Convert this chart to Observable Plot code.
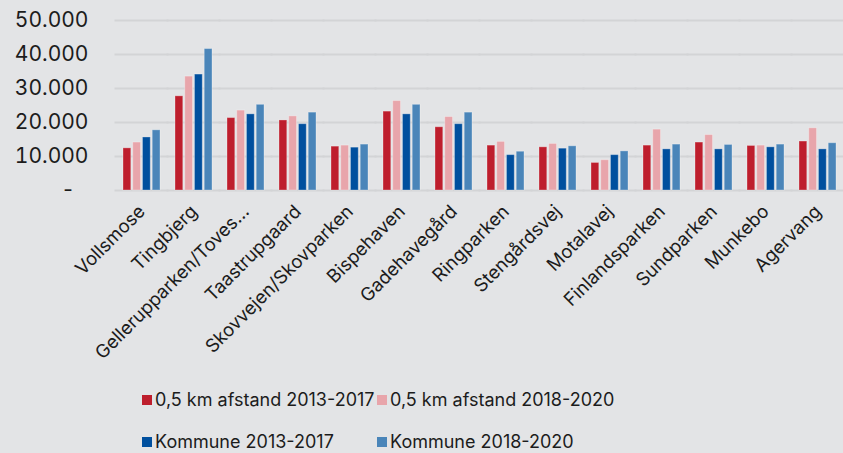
<!DOCTYPE html>
<html><head><meta charset="utf-8">
<script src="https://cdn.jsdelivr.net/npm/d3@7"></script>
<script src="https://cdn.jsdelivr.net/npm/@observablehq/plot@0.6"></script>
<style>
html,body{margin:0;padding:0;background:#e3e4e6;overflow:hidden;width:843px;height:453px;}
#chart svg{display:block;font-family:Inter,sans-serif;}
#chart svg g[aria-label^="y-axis"] text{font-size:21px;}
#chart svg g[aria-label^="fx-axis"] text{font-size:18.5px;}
.legend{display:grid;grid-template-columns:235px auto;row-gap:20px;padding-left:142px;margin-top:14px;font-family:Inter,sans-serif;font-size:18px;color:#1c1c1c;line-height:22px;}
.item{display:flex;align-items:center;white-space:nowrap;}
.sw{width:10px;height:10px;margin-right:3px;flex:none;}
</style>
</head><body>
<div id="chart"></div>
<div class="legend" id="legend"></div>
<script>
const categories = ["Vollsmose","Tingbjerg","Gellerupparken/Toves...","Taastrupgaard","Skovvejen/Skovparken","Bispehaven","Gadehavegård","Ringparken","Stengårdsvej","Motalavej","Finlandsparken","Sundparken","Munkebo","Agervang"];
const series = ["0,5 km afstand 2013-2017","0,5 km afstand 2018-2020","Kommune 2013-2017","Kommune 2018-2020"];
const colors = ["#be1e2d","#e8a5ab","#004f9e","#4a85b9"];
const afstand1317 = [12400,27700,21300,20600,12900,23200,18600,13200,12700,8100,13200,14100,13100,14400];
const afstand1820 = [14100,33500,23500,21800,13200,26300,21600,14300,13700,8900,17900,16300,13200,18300];
const kommune1317 = [15600,34100,22400,19500,12600,22400,19500,10400,12300,10400,12100,12100,12700,12100];
const kommune1820 = [17700,41600,25200,22900,13500,25200,22900,11400,13000,11500,13500,13400,13500,13900];
const yTicks = [0,10000,20000,30000,40000,50000];

const values = [afstand1317, afstand1820, kommune1317, kommune1820];
const data = categories.flatMap((c,i)=>series.map((s,j)=>({cat:c, series:s, value:values[j][i]})));
const fmt = d3.formatLocale({decimal:",", thousands:".", grouping:[3], currency:["",""]}).format(",");

const chart = Plot.plot({
  width:843, height:375, marginTop:20, marginLeft:112, marginRight:-4, marginBottom:185,
  style:{background:"transparent", fontFamily:"Inter, sans-serif", fontSize:"17px", color:"#1c1c1c", overflow:"visible"},
  fx:{domain:categories, paddingInner:0.295, paddingOuter:0.148, axis:"bottom", tickRotate:-45, tickSize:0, tickPadding:18, label:null},
  x:{domain:series, axis:null, paddingInner:0.2, paddingOuter:0, round:false},
  y:{domain:[0,50000], ticks:yTicks, tickFormat:d=>d===0?"-\u2007":fmt(d), tickSize:0, tickPadding:35, label:null},
  color:{domain:series, range:colors},
  marks:[
    Plot.ruleY(yTicks, {stroke:"#d3d4d6", strokeWidth:2, insetLeft:-8.5, insetRight:-8.5}),
    Plot.barY(data, {fx:"cat", x:"series", y:"value", fill:"series", stroke:"#ffffff", strokeOpacity:0.3, strokeWidth:1})
  ]
});
document.getElementById("chart").appendChild(chart);

const legend = document.getElementById("legend");
series.forEach((s,i)=>{
  const it = document.createElement("div"); it.className="item";
  const sw = document.createElement("span"); sw.className="sw"; sw.style.background=colors[i];
  const t = document.createElement("span"); t.textContent=s;
  it.appendChild(sw); it.appendChild(t); legend.appendChild(it);
});
</script>
</body></html>
